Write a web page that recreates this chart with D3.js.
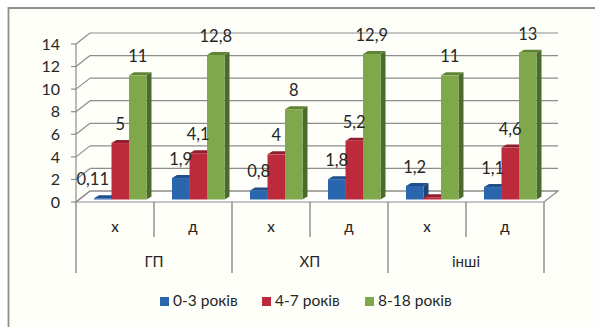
<!DOCTYPE html>
<html>
<head>
<meta charset="utf-8">
<script src="https://cdn.jsdelivr.net/npm/d3@7"></script>
<style>
html,body{margin:0;padding:0;background:#fff}
svg{display:block}
text{font-family:Lato,"Noto Sans",sans-serif;fill:#262626}
</style>
</head>
<body>
<svg id="chart" width="595" height="327"></svg>
<script>
// Chart data
const diagnoses = ["ГП", "ХП", "інші"];
const sexes = ["х", "д"];
const ageGroups = ["0-3 років", "4-7 років", "8-18 років"];
const youngest = [0.11, 1.9, 0.8, 1.8, 1.2, 1.1];
const middle = [5, 4.1, 4, 5.2, 0.2, 4.6];
const oldest = [11, 12.8, 8, 12.9, 11, 13];
const youngestLabels = ["0,11", "1,9", "0,8", "1,8", "1,2", "1,1"];
const middleLabels = ["5", "4,1", "4", "5,2", "", "4,6"];
const oldestLabels = ["11", "12,8", "8", "12,9", "11", "13"];
const yTicks = [0, 2, 4, 6, 8, 10, 12, 14];

const faceColors = ["#2a66ae", "#bd2a3c", "#7fa84a"];
const topColors = ["#1f4f8c", "#8e1f2e", "#5f8436"];
const sideColors = ["#1d4477", "#7a1a27", "#4a6b2a"];

const seriesValues = [youngest, middle, oldest];
const seriesLabels = [youngestLabels, middleLabels, oldestLabels];
const clusters = d3.range(youngest.length);

const svg = d3.select("#chart");

// Pale panel with a rule along its top and left edges
svg.append("rect").attr("x", 8).attr("y", 8).attr("width", 587).attr("height", 319).attr("fill", "#fffffa");
svg.append("path").attr("d", d3.line()([[8.5, 327], [8.5, 8], [595, 8]]))
  .attr("fill", "none").attr("stroke", "#8f8f8f").attr("stroke-width", 1.8);

// Projection: front plane of the box, with depth shifting up and to the right
const depthX = 14, depthY = -11;
const x0 = d3.scaleBand().domain(clusters).range([76, 544]).paddingInner(0.327).paddingOuter(0.1635).align(0.706);
const xBar = d3.scaleBand().domain(d3.range(3)).range([0, x0.bandwidth()]);
const y = d3.scaleLinear().domain([0, 14]).range([202, 44]);
const barBaseShift = -2.5, barDepth = 5, capRise = 3;

// Floor of the box
svg.append("path")
  .attr("d", d3.line()([[76, y(0)], [76 + depthX, y(0) + depthY], [544 + depthX, y(0) + depthY], [544, y(0)]]) + "Z")
  .attr("fill", "#ffffff").attr("stroke", "#8c8c8c").attr("stroke-width", 1.2);

// Back wall gridlines and their slanted returns on the side wall
const grid = svg.append("g").attr("fill", "none").attr("stroke", "#8c8c8c").attr("stroke-width", 1.2);
yTicks.forEach(t => {
  grid.append("line").attr("x1", 76 + depthX).attr("x2", 544 + depthX)
    .attr("y1", y(t) + depthY).attr("y2", y(t) + depthY);
  grid.append("line").attr("x1", 76).attr("x2", 76 + depthX)
    .attr("y1", y(t)).attr("y2", y(t) + depthY);
});
grid.append("line").attr("x1", 76).attr("x2", 76).attr("y1", y(14)).attr("y2", y(0));

// Value axis ticks and labels
const axis = svg.append("g");
axis.selectAll("line").data(yTicks).join("line")
  .attr("x1", 71).attr("x2", 76).attr("y1", d => y(d)).attr("y2", d => y(d))
  .attr("stroke", "#8c8c8c").attr("stroke-width", 1.2);
axis.selectAll("text").data(yTicks).join("text")
  .attr("x", 60).attr("y", d => y(d)).attr("dy", "0.36em").attr("text-anchor", "end")
  .attr("font-size", 16).text(d => d);

// Bars, each with a front face, a top cap and a right side
const bars = svg.append("g");
clusters.forEach(c => {
  seriesValues.forEach((vals, s) => {
    const left = x0(c) + xBar(s), w = xBar.bandwidth();
    const base = y(0) + barBaseShift;
    const top = y(vals[c]) + barBaseShift;
    bars.append("path").attr("fill", sideColors[s])
      .attr("d", d3.line()([[left + w, base], [left + w + barDepth, base - capRise], [left + w + barDepth, top - capRise], [left + w, top]]));
    bars.append("path").attr("fill", topColors[s])
      .attr("d", d3.line()([[left, top], [left + barDepth, top - capRise], [left + w + barDepth, top - capRise], [left + w, top]]));
    bars.append("rect").attr("x", left).attr("y", top).attr("width", w).attr("height", base - top)
      .attr("fill", faceColors[s]);
  });
});

// Value labels; the label of a very short bar sits to the left so it clears its neighbour
const labels = svg.append("g");
clusters.forEach(c => {
  seriesValues.forEach((vals, s) => {
    const left = x0(c) + xBar(s), w = xBar.bandwidth();
    const nudge = vals[c] < 0.5 ? -10 : 0;
    labels.append("text")
      .attr("x", left + w / 2 + nudge).attr("y", y(vals[c]) + barBaseShift - 13)
      .attr("text-anchor", "middle").attr("font-size", 16.5)
      .text(seriesLabels[s][c]);
  });
});

// Two-level category axis beneath the floor
const catStep = x0.step();
const catAxis = svg.append("g").attr("stroke", "#8c8c8c").attr("stroke-width", 1.4);
clusters.forEach(c => {
  const major = c % sexes.length === 0;
  catAxis.append("line").attr("x1", 76 + c * catStep).attr("x2", 76 + c * catStep)
    .attr("y1", y(0)).attr("y2", major ? 273 : 237);
});
catAxis.append("line").attr("x1", 544).attr("x2", 544).attr("y1", y(0)).attr("y2", 273);

clusters.forEach(c => {
  svg.append("text").attr("x", 76 + (c + 0.5) * catStep).attr("y", 232)
    .attr("text-anchor", "middle").attr("font-size", 15).attr("font-weight", 500).text(sexes[c % sexes.length]);
});
diagnoses.forEach((d, i) => {
  svg.append("text").attr("x", 76 + (i + 0.5) * 2 * catStep).attr("y", 267)
    .attr("text-anchor", "middle").attr("font-size", 15).text(d);
});

// Legend
const legendX = [160, 262, 365];
ageGroups.forEach((g, i) => {
  svg.append("rect").attr("x", legendX[i]).attr("y", 297).attr("width", 9).attr("height", 9).attr("fill", faceColors[i]);
  svg.append("text").attr("x", legendX[i] + 13).attr("y", 306).attr("font-size", 15.5).text(g);
});
</script>
</body>
</html>
